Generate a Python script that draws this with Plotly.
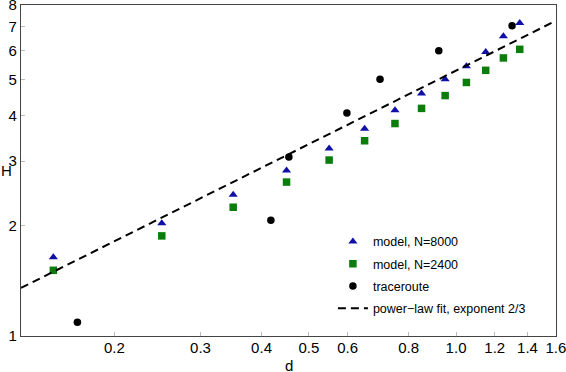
import numpy as np
import plotly.graph_objects as go

# ---- data ----
d_model = [0.15, 0.25, 0.35, 0.45, 0.55, 0.65, 0.75, 0.85, 0.95, 1.05, 1.15, 1.25, 1.35]
H_8000 = [1.64, 2.03, 2.43, 2.83, 3.25, 3.68, 4.13, 4.59, 5.02, 5.45, 5.96, 6.58, 7.15]
H_2400 = [1.51, 1.875, 2.245, 2.63, 3.02, 3.41, 3.80, 4.18, 4.53, 4.92, 5.31, 5.74, 6.06]

d_trace = [0.168, 0.418, 0.455, 0.598, 0.699, 0.922, 1.302]
H_trace = [1.09, 2.07, 3.08, 4.06, 5.02, 6.01, 7.03]

fit_amp = 5.3
fit_exp = 2.0 / 3.0
d_range = [0.1288, 1.6]
H_range = [1, 8]

x_ticks = [0.2, 0.3, 0.4, 0.5, 0.6, 0.8, 1.0, 1.2, 1.4, 1.6]
x_tick_text = ["0.2", "0.3", "0.4", "0.5", "0.6", "0.8", "1.0", "1.2", "1.4", "1.6"]
y_ticks = [1, 2, 3, 4, 5, 6, 7, 8]
y_tick_text = ["1", "2", "3", "4", "5", "6", "7", "8"]

d_fit = np.array(d_range)
H_fit = fit_amp * d_fit ** fit_exp

FONT = "Liberation Sans, Arial, Helvetica, sans-serif"

fig = go.Figure()
fig.add_trace(go.Scatter(
    x=d_model, y=H_8000, mode="markers", name="model, N=8000",
    legendgroup="a",
    marker=dict(symbol="triangle-up", size=8, color="#1010a8", line=dict(width=0)),
))
fig.add_trace(go.Scatter(
    x=d_model, y=H_2400, mode="markers", name="model, N=2400",
    legendgroup="b",
    marker=dict(symbol="square", size=7.5, color="#0a7d0a", line=dict(width=0)),
))
fig.add_trace(go.Scatter(
    x=d_trace, y=H_trace, mode="markers", name="traceroute",
    legendgroup="c",
    marker=dict(symbol="circle", size=7.5, color="black", line=dict(width=0)),
))
fig.add_trace(go.Scatter(
    x=d_fit, y=H_fit, mode="lines", name="power−law fit, exponent 2/3",
    legendgroup="d",
    line=dict(color="black", width=2, dash="8px,5px"),
))

axis_common = dict(
    showgrid=False, zeroline=False, automargin=False,
    showline=True, linecolor="#444", linewidth=1.2, mirror=True,
    ticks="inside", ticklen=4, tickcolor="#bbb", tickwidth=1,
    ticklabeloverflow="allow",
    tickfont=dict(family=FONT, size=15, color="black"),
)

fig.update_layout(
    width=566, height=372,
    margin=dict(l=21, r=10, t=5, b=36),
    paper_bgcolor="white", plot_bgcolor="white",
    font=dict(family=FONT, color="black"),
    xaxis=dict(type="log", range=[np.log10(d_range[0]), np.log10(d_range[1]) + 0.0004],
               tickmode="array", tickvals=x_ticks, ticktext=x_tick_text,
               ticklabelstandoff=-2, **axis_common),
    yaxis=dict(type="log", range=[np.log10(H_range[0]) - 0.0004, np.log10(H_range[1]) + 0.0004],
               tickmode="array", tickvals=y_ticks, ticktext=y_tick_text, **axis_common),
    legend=dict(x=0.583, y=0.33, xanchor="left", yanchor="top",
                bgcolor="rgba(0,0,0,0)", borderwidth=0,
                font=dict(family=FONT, size=12.5, color="black"),
                tracegroupgap=3),
    showlegend=True,
)

fig.add_annotation(text="H", xref="paper", yref="paper", x=-0.0405, y=0.5,
                   xanchor="left", yanchor="middle", showarrow=False,
                   font=dict(family=FONT, size=15, color="black"))
fig.add_annotation(text="d", xref="paper", yref="paper", x=0.5, y=-0.056,
                   xanchor="center", yanchor="top", showarrow=False,
                   font=dict(family=FONT, size=15, color="black"))

fig.write_html(
    "out.html",
    config={"displayModeBar": False},
    post_script="document.body.style.margin='0';document.body.style.overflow='hidden';",
)
